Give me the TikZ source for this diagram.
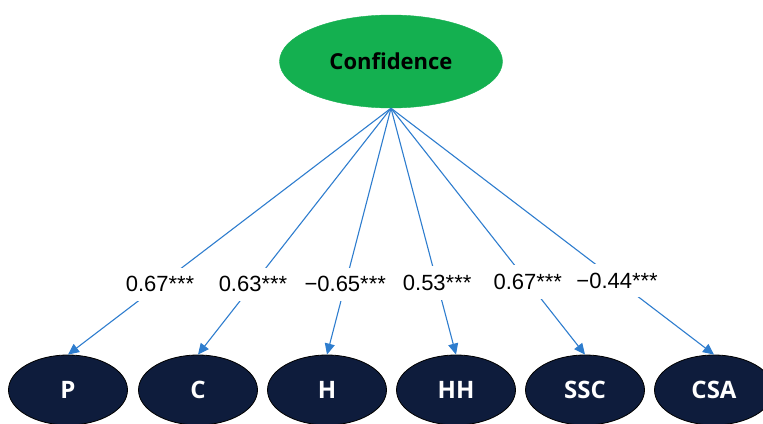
\documentclass[tikz,border=0pt]{standalone}
\usepackage{fontspec}
\setmainfont{Liberation Sans}
\newfontfamily\boldsans{Open Sans}
\usetikzlibrary{shapes.geometric,arrows.meta}
\definecolor{confgreen}{RGB}{20,176,80}
\definecolor{navyfill}{RGB}{14,28,60}
\definecolor{linkblue}{RGB}{46,125,206}
\tikzset{
  latent/.style={ellipse, fill=confgreen, draw=confgreen, minimum width=223pt, minimum height=93pt, inner sep=0pt,
    font=\boldsans\bfseries\fontsize{22}{26}\selectfont, text=black},
  indicator/.style={ellipse, fill=navyfill, draw=black, line width=0.8pt, minimum width=119pt, minimum height=70pt, inner sep=0pt,
    font=\boldsans\bfseries\fontsize{24}{28}\selectfont, text=white},
  link/.style={draw=linkblue, line width=1.1pt, -{Triangle[length=11pt,width=10pt]}},
  coef/.style={fill=white, inner xsep=2pt, inner ysep=9pt, font=\fontsize{22}{26}\selectfont, text=black}
}
\begin{document}
\begin{tikzpicture}[x=1pt,y=-1pt]
\useasboundingbox (0,0) rectangle (763,423);
\clip (0,0) rectangle (763,423);
\node[latent] (conf) at (391,61.5) {Confidence};
\node[indicator] (P) at (68,390) {P};
\node[indicator] (C) at (198,390) {C};
\node[indicator] (H) at (327,390) {H};
\node[indicator] (HH) at (456,390) {HH};
\node[indicator] (SSC) at (585,390) {SSC};
\node[indicator] (CSA) at (714,390) {CSA};
\draw[link] (conf.south) -- node[coef, pos=0.715] (l1) {0.67***} (P.north);
\draw[link] (conf.south) -- node[coef, pos=0.715] (l2) {0.63***} (C.north);
\draw[link] (conf.south) -- node[coef, pos=0.715] (l3) {−0.65***} (H.north);
\draw[link] (conf.south) -- node[coef, pos=0.71] (l4) {0.53***} (HH.north);
\draw[link] (conf.south) -- node[coef, pos=0.705] (l5) {0.67***} (SSC.north);
\draw[link] (conf.south) -- node[coef, pos=0.70] (l6) {−0.44***} (CSA.north);
\end{tikzpicture}
\end{document}
